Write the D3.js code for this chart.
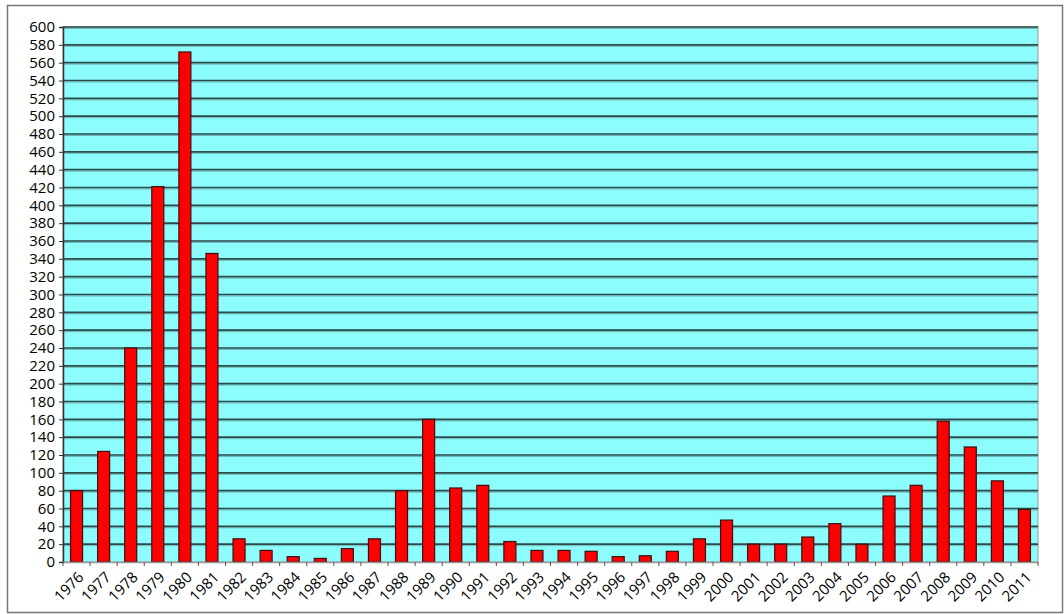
<!DOCTYPE html>
<html>
<head>
  <script src="https://d3js.org/d3.v7.min.js"></script>
  <style>
    body { margin: 0; background: #fff; }
    text { font-family: "Open Sans", sans-serif; fill: #000; }
  </style>
</head>
<body>
  <div id="plot"></div>
  <script>
    var years = ["1976","1977","1978","1979","1980","1981","1982","1983","1984","1985",
                 "1986","1987","1988","1989","1990","1991","1992","1993","1994","1995",
                 "1996","1997","1998","1999","2000","2001","2002","2003","2004","2005",
                 "2006","2007","2008","2009","2010","2011"];
    var counts = [80,124,240,421,572,346,26,13,6,4,
                  15,26,80,160,83,86,23,13,13,12,
                  6,7,12,26,47,20,20,28,43,20,
                  74,86,158,129,91,59];
    var yTicks = d3.range(0, 601, 20);

    var W = 1064, H = 614;
    var pLeft = 63, pRight = 1038, pTop = 27, pBottom = 562;

    var svg = d3.select('#plot').append("svg")
      .attr("width", W)
      .attr("height", H);

    // outer frame
    svg.append("rect")
      .attr("x", 7.5).attr("y", 5.5)
      .attr("width", 1055).attr("height", 607)
      .attr("fill", "none")
      .attr("stroke", "#777")
      .attr("stroke-width", 1.5);

    var x = d3.scaleBand().domain(years).range([pLeft, pRight]).paddingInner(0).paddingOuter(0);
    var y = d3.scaleLinear().domain([0, 600]).range([pBottom, pTop]);

    // plot background
    svg.append("rect")
      .attr("x", pLeft).attr("y", pTop)
      .attr("width", pRight - pLeft).attr("height", pBottom - pTop)
      .attr("fill", "#8cfcfc")
      .attr("stroke", "#9a9a9a")
      .attr("stroke-width", 1);

    // gridlines
    var grid = svg.append("g");
    grid.selectAll("line.shadow").data(yTicks.slice(1)).enter()
      .append("line")
      .attr("class", "shadow")
      .attr("x1", pLeft).attr("x2", pRight)
      .attr("y1", function(d) { return y(d) + 1.5; })
      .attr("y2", function(d) { return y(d) + 1.5; })
      .attr("stroke", "#6fb8b8")
      .attr("stroke-width", 1);
    grid.selectAll("line.main").data(yTicks.slice(1)).enter()
      .append("line")
      .attr("class", "main")
      .attr("x1", pLeft).attr("x2", pRight)
      .attr("y1", function(d) { return y(d); })
      .attr("y2", function(d) { return y(d); })
      .attr("stroke", "#2b4a4a")
      .attr("stroke-width", 1.6);

    // bars
    var bw = 12;
    svg.selectAll("rect.bar").data(counts).enter()
      .append("rect")
      .attr("class", "bar")
      .attr("x", function(d, i) { return x(years[i]) + x.bandwidth() / 2 - bw / 2; })
      .attr("y", function(d) { return y(d); })
      .attr("width", bw)
      .attr("height", function(d) { return y(0) - y(d); })
      .attr("fill", "#ff0000")
      .attr("stroke", "#3a1010")
      .attr("stroke-width", 1.2);

    // y axis
    var yAxis = d3.axisLeft(y).tickValues(yTicks).tickSize(4).tickPadding(4);
    var gy = svg.append("g")
      .attr("transform", "translate(" + pLeft + ",0)")
      .call(yAxis);
    gy.select(".domain").attr("stroke", "#333").attr("stroke-width", 1.5);
    gy.selectAll(".tick line").attr("stroke", "#333");
    gy.selectAll(".tick text").style("font-size", "15px").attr("dy", "0.32em");

    // x axis
    var xAxis = d3.axisBottom(x).tickSize(0).tickSizeOuter(0);
    var gx = svg.append("g")
      .attr("transform", "translate(0," + pBottom + ")")
      .call(xAxis);
    gx.select(".domain").attr("stroke", "#999").attr("stroke-width", 1.5);
    gx.selectAll(".tick text")
      .style("font-size", "15px")
      .attr("text-anchor", "end")
      .attr("dy", 0)
      .attr("transform", "translate(6,14) rotate(-45)");
    // small ticks between categories
    svg.append("g").selectAll("line").data(years.concat(["end"])).enter()
      .append("line")
      .attr("x1", function(d, i) { return pLeft + i * x.bandwidth(); })
      .attr("x2", function(d, i) { return pLeft + i * x.bandwidth(); })
      .attr("y1", pBottom).attr("y2", pBottom + 4)
      .attr("stroke", "#555");
  </script>
</body>
</html>
